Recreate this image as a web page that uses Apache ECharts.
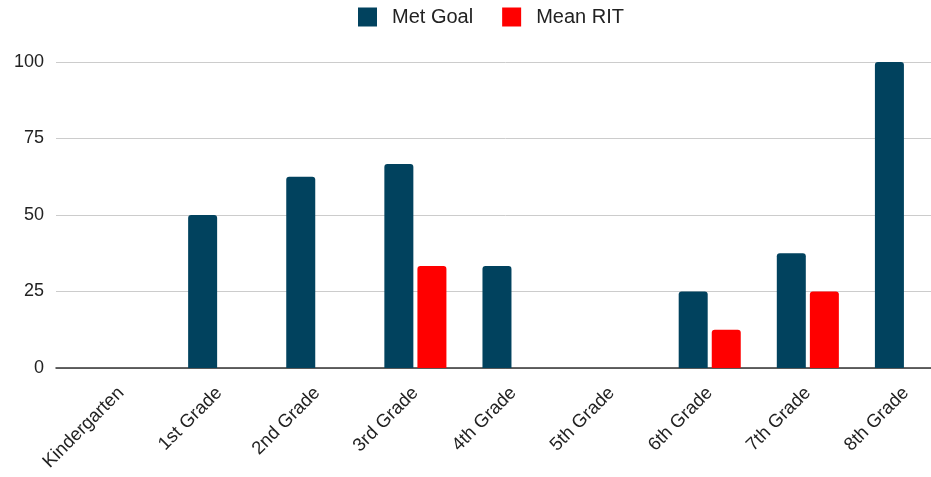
<!DOCTYPE html>
<html>
<head>
<meta charset="utf-8">
<script src="https://cdn.jsdelivr.net/npm/echarts@6/dist/echarts.min.js"></script>
<style>
html,body{margin:0;padding:0;background:#fff;overflow:hidden;width:931px;height:477px;}
#chart{width:955px;height:477px;}
</style>
</head>
<body>
<div id="chart"></div>
<script>
var categories = ['Kindergarten','1st Grade','2nd Grade','3rd Grade','4th Grade','5th Grade','6th Grade','7th Grade','8th Grade'];
var metGoal = [null, 50, 62.5, 66.7, 33.3, null, 25, 37.5, 100];
var meanRIT = [null, null, null, 33.3, null, null, 12.5, 25, null];
var yTicks = [0, 25, 50, 75, 100];

var chart = echarts.init(document.getElementById('chart'));
var font = 'Arial, "Liberation Sans", sans-serif';
chart.setOption({
  backgroundColor: '#ffffff',
  animation: false,
  legend: {
    top: 2, left: 353,
    itemWidth: 19, itemHeight: 19, itemGap: 29,
    icon: 'rect',
    textStyle: {fontFamily: font, fontSize: 20, color: '#222', padding: [0,0,0,10]},
    data: ['Met Goal', 'Mean RIT']
  },
  grid: [
    {left: 56, right: 0, top: 62, bottom: 109},
    {left: 72, right: 0, top: 62, bottom: 109}
  ],
  xAxis: [
    {gridIndex: 0, type: 'value', min: 0, max: 1, show: true,
     axisLine: {show: true, lineStyle: {color: '#333', width: 1.5}},
     axisTick: {show: false}, axisLabel: {show: false}, splitLine: {show: false}},
    {gridIndex: 1, type: 'category', data: categories,
     axisLine: {show: false}, axisTick: {show: false},
     axisLabel: {rotate: 45, interval: 0, fontFamily: font, fontSize: 18.5, color: '#222', margin: 22}}
  ],
  yAxis: [
    {gridIndex: 0, type: 'value', min: yTicks[0], max: yTicks[yTicks.length-1], interval: 25,
     axisLine: {show: false}, axisTick: {show: false},
     axisLabel: {fontFamily: font, fontSize: 18, color: '#222', margin: 12},
     splitLine: {lineStyle: {color: '#cccccc', width: 1}}},
    {gridIndex: 1, type: 'value', min: 0, max: 100, show: false, splitLine: {show: false}}
  ],
  series: [
    {name: 'Met Goal', type: 'bar', xAxisIndex: 1, yAxisIndex: 1, data: metGoal,
     barWidth: 29, barGap: '14%',
     itemStyle: {color: '#01425e', borderRadius: [3,3,0,0]}},
    {name: 'Mean RIT', type: 'bar', xAxisIndex: 1, yAxisIndex: 1, data: meanRIT,
     barWidth: 29, barGap: '14%',
     itemStyle: {color: '#ff0000', borderRadius: [3,3,0,0]}}
  ]
});
</script>
</body>
</html>
